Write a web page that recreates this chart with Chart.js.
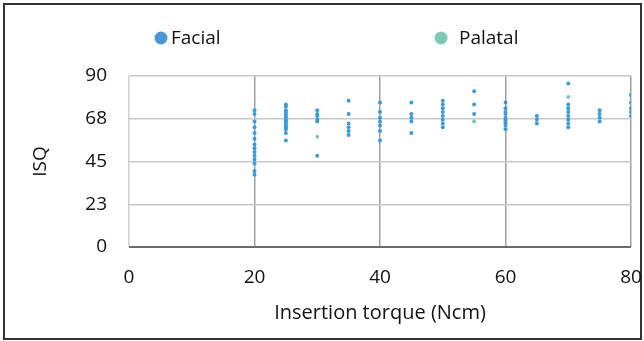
<!DOCTYPE html>
<html>
<head>
<meta charset="utf-8">
<script src="https://cdn.jsdelivr.net/npm/chart.js@4.4.1/dist/chart.umd.min.js"></script>
<style>
    body { margin: 0; background: #fff; }
    #marco { position: absolute; left: 3px; top: 3px; width: 639px; height: 337px; border: 2px solid #333; box-sizing: border-box; }
    #lienzo { position: absolute; left: 0; top: 0; }
</style>
</head>
<body>
<div id="marco"></div>
<canvas id="lienzo" width="644" height="341"></canvas>
<script>
// Torque de inserción (Ncm) de cada columna de puntos.
const torques = [20, 25, 30, 35, 40, 45, 50, 55, 60, 65, 70, 75, 80];
// Valores ISQ del grupo facial, una lista por torque.
const facialIsq = [
    [72, 70, 66, 63, 60, 57, 54, 52, 50, 48, 46, 44, 40, 38],
    [75, 74, 72, 71, 70, 69, 68, 67, 66, 65, 64, 63, 62, 60, 56],
    [72, 70, 69, 67, 66, 48],
    [77, 70, 65, 63, 61, 59],
    [76, 71, 68, 66, 64, 61, 56],
    [76, 70, 68, 66, 60],
    [77, 75, 73, 71, 69, 67, 65, 63],
    [82, 75, 70],
    [76, 73, 71, 70, 68, 67, 66, 65, 64, 62],
    [69, 67, 65],
    [86, 75, 73, 71, 69, 67, 65, 63],
    [72, 70, 68, 66],
    [80, 76, 73, 71, 69]
];
// Valores ISQ del grupo palatal (casi todos quedan tapados por los faciales).
const palatalTorques = [30, 55, 70];
const palatalIsq = [58, 66, 79];
// Marcas de los ejes.
const isqTicks = [0, 22.5, 45, 67.5, 90];
const torqueTicks = [0, 20, 40, 60, 80];

const FUENTE = "'Open Sans', sans-serif";
const TAM = 19;
const COLOR_FACIAL = '#3c9bd6';
const COLOR_PALATAL = '#7cc9b4';

// Se arman los puntos a partir de las listas.
const puntosFacial = [];
torques.forEach((t, i) => {
    facialIsq[i].forEach(v => puntosFacial.push({ x: t, y: v }));
});
const puntosPalatal = palatalTorques.map((t, i) => ({ x: t, y: palatalIsq[i] }));

// Leyenda dibujada a mano para separar los dos elementos como en la figura.
const leyendaManual = {
    id: 'leyendaManual',
    afterDraw(chart, args, opts) {
        const ctx = chart.ctx;
        ctx.save();
        ctx.font = `${TAM}px ${FUENTE}`;
        ctx.textBaseline = 'middle';
        chart.data.datasets.forEach((ds, i) => {
            const pos = opts.items[i];
            ctx.beginPath();
            ctx.arc(pos.x, opts.y, 6.5, 0, Math.PI * 2);
            ctx.fillStyle = ds.legendColor;
            ctx.fill();
            ctx.fillStyle = '#111';
            ctx.fillText(ds.label, pos.textX, opts.y + 1);
        });
        ctx.restore();
    }
};

new Chart(document.getElementById('lienzo'), {
    type: 'scatter',
    data: {
        datasets: [
            {
                label: 'Facial',
                data: puntosFacial,
                backgroundColor: COLOR_FACIAL,
                borderWidth: 0,
                pointRadius: 2,
                legendColor: '#4a97d4',
                order: 1
            },
            {
                label: 'Palatal',
                data: puntosPalatal,
                backgroundColor: COLOR_PALATAL,
                borderWidth: 0,
                pointRadius: 2,
                legendColor: COLOR_PALATAL,
                order: 2
            }
        ]
    },
    options: {
        responsive: false,
        animation: false,
        layout: { padding: { top: 76, right: 13, bottom: 0, left: 0 } },
        plugins: {
            legend: { display: false },
            tooltip: { enabled: false },
            leyendaManual: {
                y: 38,
                items: [{ x: 161, textX: 171 }, { x: 441, textX: 459 }]
            }
        },
        scales: {
            x: {
                type: 'linear',
                min: 0,
                max: 80,
                afterBuildTicks: scale => { scale.ticks = torqueTicks.map(v => ({ value: v })); },
                afterFit: scale => { scale.height = 94; },
                border: { display: false },
                grid: {
                    drawTicks: true,
                    tickLength: 19,
                    tickColor: 'rgba(0,0,0,0)',
                    lineWidth: 1.5,
                    color: c => (c.tick && c.tick.value === 0) ? '#d0d0d0' : '#a0a0a0'
                },
                ticks: { padding: 0, color: '#111', font: { family: FUENTE, size: TAM } },
                title: {
                    display: true,
                    text: 'Insertion torque (Ncm)',
                    color: '#111',
                    font: { family: FUENTE, size: 20 },
                    padding: { top: 0, bottom: 16 }
                }
            },
            y: {
                type: 'linear',
                min: 0,
                max: 90,
                afterBuildTicks: scale => { scale.ticks = isqTicks.map(v => ({ value: v })); },
                afterFit: scale => { scale.width = 129; },
                border: { display: false },
                grid: {
                    drawTicks: false,
                    lineWidth: c => (c.tick && c.tick.value === 0) ? 2 : 1.5,
                    color: c => (c.tick && c.tick.value === 0) ? '#6a6a6a' : '#c8c8c8'
                },
                ticks: {
                    padding: 22,
                    color: '#111',
                    font: { family: FUENTE, size: TAM },
                    callback: v => Math.round(v)
                },
                title: {
                    display: true,
                    text: 'ISQ',
                    color: '#111',
                    font: { family: FUENTE, size: TAM },
                    padding: { top: 29, bottom: 0 }
                }
            }
        }
    },
    plugins: [leyendaManual]
});
</script>
</body>
</html>
